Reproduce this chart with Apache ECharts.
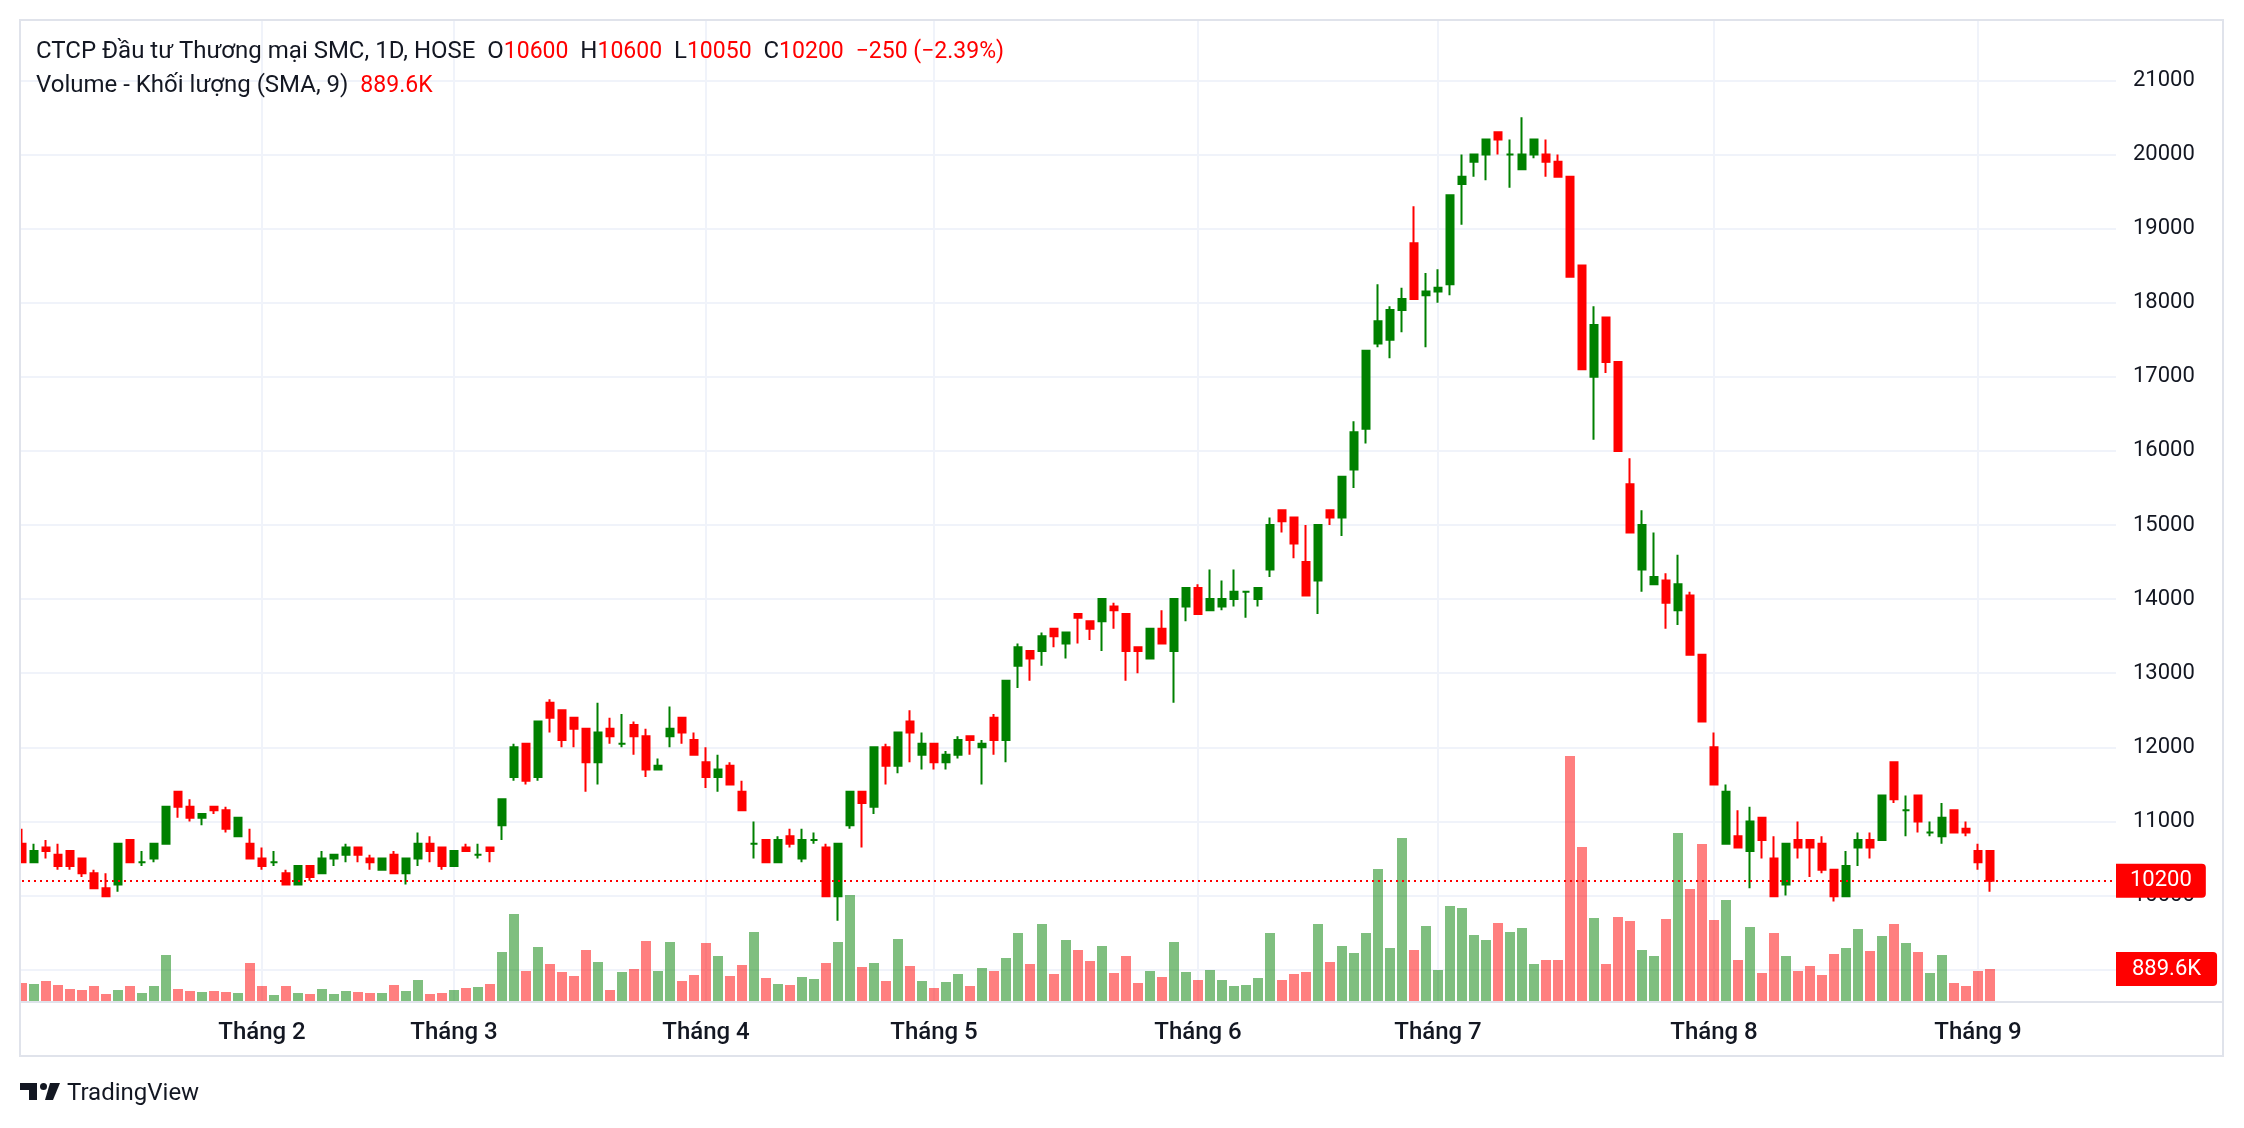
<!DOCTYPE html>
<html>
<head>
<meta charset="utf-8">
<script src="https://cdn.jsdelivr.net/npm/echarts@6.0.0/dist/echarts.min.js"></script>
<style>
html,body{margin:0;padding:0;background:#ffffff;}
#c{width:2244px;height:1128px;}
</style>
</head>
<body>
<div id="c"></div>
<script>
// ---------- DATA (daily candles) ----------
const opens = [10700,10450,10650,10550,10600,10500,10300,10100,10150,10750,
10450,10500,10700,11400,11200,11050,11200,11150,10800,10700,
10500,10450,10300,10150,10400,10300,10500,10550,10650,10500,
10350,10550,10300,10500,10700,10650,10400,10650,10550,10650,
10950,11600,12050,11600,12600,12500,12400,12250,11800,12250,
12050,12300,12150,11700,12150,12400,12100,11800,11600,11750,
11400,10700,10750,10450,10800,10500,10750,10650,9990,10950,
11400,11200,12000,11750,12350,11900,12050,11800,11900,12150,
12000,12400,12100,13100,13300,13300,13600,13400,13800,13700,
13700,13900,13800,13350,13200,13600,13300,13900,14150,13850,
13900,14000,14100,14000,14400,15200,15100,14500,14250,15200,
15100,15750,16300,17450,17500,17900,18800,18100,18150,18250,
19600,19900,20000,20300,20000,19800,20000,20000,19900,19700,
18500,17000,17800,17200,15550,14400,14200,14250,13850,14050,
13250,12000,10700,10800,10600,11050,10500,10150,10750,10750,
10700,10350,9990,10650,10750,10750,11800,11150,11350,10850,
10800,11150,10900,10600,10600];

const highs = [10900,10700,10750,10700,10600,10500,10350,10300,10700,10750,
10600,10700,11200,11400,11300,11100,11200,11200,11050,10900,
10650,10600,10350,10400,10400,10600,10550,10700,10650,10550,
10500,10600,10500,10850,10800,10650,10600,10700,10700,10650,
11300,12050,12050,12350,12650,12500,12400,12250,12600,12400,
12450,12350,12250,11850,12550,12400,12200,12000,11900,11800,
11550,11000,10750,10800,10900,10900,10850,10700,10700,11400,
11400,12000,12050,12200,12500,12200,12050,11950,12150,12150,
12100,12450,12900,13400,13300,13550,13600,13550,13800,13700,
14000,13950,13800,13350,13600,13850,14000,14150,14200,14400,
14250,14400,14100,14150,15100,15200,15100,15000,15000,15200,
15650,16400,17350,18250,17950,18200,19300,18400,18450,19450,
20000,20000,20200,20300,20200,20500,20200,20200,20000,19700,
18500,17950,17800,17200,15900,15200,14900,14350,14600,14100,
13250,12200,11500,11150,11200,11050,10800,10700,11000,10750,
10800,10350,10600,10850,10850,11350,11800,11350,11350,11000,
11250,11150,11000,10700,10600];

const lows = [10450,10450,10500,10350,10350,10250,10100,9990,10050,10450,
10400,10450,10700,11050,11000,10950,11100,10850,10800,10500,
10350,10400,10150,10150,10200,10300,10400,10450,10450,10350,
10350,10300,10150,10400,10450,10350,10400,10600,10500,10450,
10750,11550,11500,11550,12200,12000,12000,11400,11500,12050,
12000,11900,11600,11700,12000,12050,11900,11450,11400,11500,
11150,10500,10450,10450,10650,10450,10700,9990,9660,10900,
10650,11100,11500,11650,11800,11700,11700,11700,11850,11900,
11500,11900,11800,12800,12900,13100,13350,13200,13400,13450,
13300,13600,12900,13000,13200,13400,12600,13700,13800,13850,
13850,13900,13750,13900,14300,14900,14550,14050,13800,15000,
14850,15500,16100,17400,17250,17600,18050,17400,18000,18100,
19050,19700,19650,20000,19550,19800,19950,19700,19700,18350,
17100,16150,17050,16000,14900,14100,14200,13600,13650,13250,
12350,11500,10700,10650,10100,10500,9990,10000,10500,10250,
10300,9920,9990,10400,10500,10750,11250,10800,10850,10800,
10700,10850,10800,10350,10050];

const closes = [10450,10600,10600,10400,10400,10300,10100,9990,10700,10450,
10450,10700,11200,11200,11050,11100,11150,10900,11050,10500,
10400,10450,10150,10400,10250,10500,10550,10650,10550,10450,
10500,10300,10500,10700,10600,10400,10600,10600,10550,10600,
11300,12000,11550,12350,12400,12100,12250,11800,12200,12150,
12050,12150,11700,11750,12250,12200,11900,11600,11700,11500,
11150,10700,10450,10750,10700,10750,10750,9990,10700,11400,
11250,12000,11750,12200,12200,12050,11800,11900,12100,12100,
12050,12100,12900,13350,13200,13500,13500,13550,13750,13600,
14000,13850,13300,13300,13600,13400,14000,14150,13800,14000,
14000,14100,14100,14150,15000,15050,14750,14050,15000,15100,
15650,16250,17350,17750,17900,18050,18050,18150,18200,19450,
19700,20000,20200,20200,20000,20000,20200,19900,19700,18350,
17100,17700,17200,16000,14900,15000,14300,13950,14200,13250,
12350,11500,11400,10650,11000,10750,9990,10700,10650,10650,
10350,9990,10400,10750,10650,11350,11300,11150,11000,10850,
11050,10850,10850,10450,10200];

// volume in thousands of shares
const volumesK = [500,473,556,445,334,306,417,195,306,417,
222,417,1279,334,278,250,278,250,222,1056,
417,167,417,222,195,334,195,278,250,222,
222,445,278,584,195,222,306,361,389,473,
1362,2419,834,1501,1029,806,695,1418,1084,306,
806,890,1668,834,1640,556,723,1612,1251,695,
1001,1918,639,473,445,667,612,1056,1640,2947,
945,1056,556,1724,973,556,361,528,751,417,
917,834,1195,1890,1029,2141,751,1696,1418,1112,
1529,778,1251,500,834,667,1640,806,584,862,
584,417,445,639,1890,584,751,806,2141,1084,
1529,1334,1890,3670,1473,4531,1418,2085,862,2641,
2585,1835,1696,2168,1918,2029,1029,1140,1140,6811,
4281,2307,1029,2335,2224,1418,1251,2280,4670,3114,
4365,2252,2808,1140,2057,778,1890,1251,834,973,
723,1307,1473,2002,1390,1807,2141,1612,1362,778,
1279,500,417,834,889.6];

// first trading day of each month (bar index) and its label
const monthStarts = [20, 36, 57, 76, 98, 118, 141, 163];
const monthLabels = ['Tháng 2','Tháng 3','Tháng 4','Tháng 5','Tháng 6','Tháng 7','Tháng 8','Tháng 9'];

// price scale ticks
const priceMin = 8000, priceMax = 22000, priceStep = 1000;
const priceLabelMin = 10000, priceLabelMax = 21000;
const volumeAxisMaxK = 27272;

const symbolTitle = 'CTCP Đầu tư Thương mại SMC, 1D, HOSE';
const volumeTitle = 'Volume - Khối lượng (SMA, 9)';
const slotCount = 175;

// ---------- CHART ----------
const FONT = 'Roboto, "Noto Sans", sans-serif';
const UP = '#008000', DOWN = '#ff0000';
const UPV = 'rgba(0,128,0,0.5)', DOWNV = 'rgba(255,0,0,0.5)';
const GRIDC = '#f0f3fa', FRAME = '#e0e3eb', TXT = '#131722';

const n = closes.length;
const cats = Array.from({length: slotCount}, (_, i) => String(i));
const candleData = opens.map((o, i) => {
  const c = closes[i];
  const item = {value: [o, c, lows[i], highs[i]]};
  if (c === o) item.itemStyle = {color: UP, color0: UP, borderColor: UP, borderColor0: UP};
  return item;
});
const volData = volumesK.map((v, i) => ({value: v, itemStyle: {color: closes[i] >= opens[i] ? UPV : DOWNV}}));

const lastO = opens[n-1], lastH = highs[n-1], lastL = lows[n-1], lastC = closes[n-1];
const chg = lastC - closes[n-2];
const pct = chg / closes[n-2] * 100;
const sgn = chg < 0 ? '\u2212' : '+';
const lastUp = lastC >= lastO;
const lastCol = lastUp ? UP : DOWN;
const volText = volumesK[n-1].toFixed(1) + 'K';

const header1 = '{n|' + symbolTitle + '}  {n|O}{v|' + lastO + '}  {n|H}{v|' + lastH + '}  {n|L}{v|' + lastL +
  '}  {n|C}{v|' + lastC + '}  {v|' + sgn + Math.abs(chg) + ' (' + sgn + Math.abs(pct).toFixed(2) + '%)}';
const header2 = '{n|' + volumeTitle + '}  {v|' + volText + '}';
const richH = {
  n: {color: TXT, fontSize: 24, fontWeight: 'normal', fontFamily: FONT, lineHeight: 30},
  v: {color: lastCol, fontSize: 23, fontWeight: 'normal', fontFamily: FONT, lineHeight: 30}
};

const chart = echarts.init(document.getElementById('c'), null, {renderer: 'canvas', width: 2244, height: 1128});
chart.setOption({
  animation: false,
  backgroundColor: '#ffffff',
  textStyle: {fontFamily: FONT},
  title: [
    {left: 36, top: 37, padding: 0, text: header1, textStyle: {fontWeight: 'normal', fontSize: 24, rich: richH}},
    {left: 36, top: 71, padding: 0, text: header2, textStyle: {fontWeight: 'normal', fontSize: 24, rich: richH}}
  ],
  grid: [
    {left: 16, width: 2100, top: 6.2, height: 1037.6},
    {left: 16, width: 2100, top: 20, height: 981}
  ],
  xAxis: [
    {type: 'category', gridIndex: 0, data: cats, boundaryGap: true, show: false},
    {type: 'category', gridIndex: 1, data: cats, boundaryGap: true,
     axisLine: {show: false}, axisTick: {show: false}, splitLine: {show: false},
     axisLabel: {
       interval: (idx) => monthStarts.includes(idx),
       formatter: (val, idx) => { const k = monthStarts.indexOf(idx); return k >= 0 ? monthLabels[k] : ''; },
       color: TXT, fontSize: 24, fontWeight: 500, fontFamily: FONT, margin: 20
     }}
  ],
  yAxis: [
    {type: 'value', gridIndex: 0, position: 'right', min: priceMin, max: priceMax, interval: priceStep,
     axisLine: {show: false}, axisTick: {show: false},
     splitLine: {show: true, showMinLine: false, showMaxLine: false, lineStyle: {color: GRIDC, width: 2}},
     axisLabel: {
       margin: 17, color: TXT, fontSize: 22, fontFamily: FONT,
       formatter: (v) => (v >= priceLabelMin && v <= priceLabelMax) ? String(v) : ''
     }},
    {type: 'value', gridIndex: 1, min: 0, max: volumeAxisMaxK, show: false, splitLine: {show: false}}
  ],
  series: [
    {
      type: 'custom', name: 'monthLines', xAxisIndex: 1, yAxisIndex: 1, z: 0, silent: true,
      data: monthStarts.map(i => [i, 0]), encode: {x: 0, y: 1},
      renderItem: (params, api) => {
        const x = api.coord([api.value(0), 0])[0];
        const cs = params.coordSys;
        return {type: 'line', shape: {x1: x, y1: cs.y, x2: x, y2: cs.y + cs.height},
                style: {stroke: GRIDC, lineWidth: 2}};
      }
    },
    {
      type: 'bar', name: 'Volume', xAxisIndex: 1, yAxisIndex: 1, z: 1, barWidth: 10,
      data: volData, silent: true,
      markLine: {
        silent: true, symbol: ['none', 'none'],
        lineStyle: {color: 'rgba(255,255,255,0)', width: 1, type: 'solid'},
        label: {show: true, position: 'end', distance: 0, formatter: volText,
                color: '#ffffff', backgroundColor: lastCol, fontSize: 22, fontFamily: FONT,
                padding: [6, 16, 6, 16], borderRadius: [0, 4, 4, 0]},
        data: [{yAxis: volumesK[n-1]}]
      }
    },
    {
      type: 'candlestick', name: 'SMC', xAxisIndex: 0, yAxisIndex: 0, z: 2, barWidth: 8,
      data: candleData, silent: true,
      itemStyle: {color: UP, color0: DOWN, borderColor: UP, borderColor0: DOWN, borderWidth: 2},
      markLine: {
        silent: true, symbol: ['none', 'none'],
        lineStyle: {color: lastCol, type: [2, 4], width: 2},
        label: {show: true, position: 'end', distance: 0, formatter: String(lastC),
                color: '#ffffff', backgroundColor: lastCol, fontSize: 22, fontFamily: FONT,
                padding: [6, 14, 6, 14], borderRadius: [0, 4, 4, 0]},
        data: [{yAxis: lastC}]
      }
    }
  ],
  graphic: [
    {type: 'rect', z: 50, silent: true, shape: {x: 0, y: 0, width: 19, height: 1128}, style: {fill: '#ffffff'}},
    {type: 'rect', z: 51, silent: true, shape: {x: 20, y: 20, width: 2203, height: 1036}, style: {fill: 'none', stroke: FRAME, lineWidth: 2}},
    {type: 'line', z: 51, silent: true, shape: {x1: 20, y1: 1002, x2: 2223, y2: 1002}, style: {stroke: FRAME, lineWidth: 2}},
    {type: 'group', z: 51, silent: true, children: [
      {type: 'polygon', shape: {points: [[20,1083],[37,1083],[37,1100],[29,1100],[29,1090],[20,1090]]}, style: {fill: TXT}},
      {type: 'circle', shape: {cx: 43.5, cy: 1086.5, r: 3.5}, style: {fill: TXT}},
      {type: 'polygon', shape: {points: [[50,1083],[60,1083],[53,1100],[45,1100]]}, style: {fill: TXT}},
      {type: 'text', x: 67, y: 1094, style: {text: 'TradingView', fill: TXT, fontSize: 24, fontFamily: FONT, verticalAlign: 'middle'}}
    ]}
  ]
});
</script>
</body>
</html>
